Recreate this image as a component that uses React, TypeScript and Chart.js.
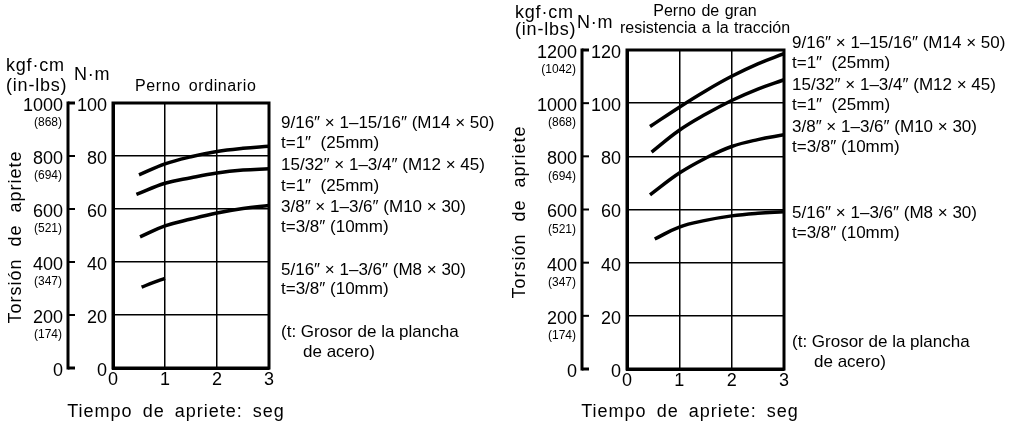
import React, { useEffect, useRef } from "react";
import { Chart, registerables } from "chart.js";

Chart.register(...registerables);

// ---------- data ----------
const TIME_TICKS = [0, 1, 2, 3];

// Perno ordinario (N·m)
const ORD_NM_TICKS = [0, 20, 40, 60, 80, 100];
const ORD_KGF_TICKS = [0, 200, 400, 600, 800, 1000];
const ORD_INLBS = ["", "(174)", "(347)", "(521)", "(694)", "(868)"];
const ORD_M14_X = [0.5, 1, 1.5, 2, 2.5, 3];
const ORD_M14_Y = [72.9, 77.0, 79.7, 81.7, 82.9, 83.7];
const ORD_M12_X = [0.45, 1, 1.5, 2, 2.5, 3];
const ORD_M12_Y = [65.5, 69.7, 71.8, 73.6, 74.7, 75.2];
const ORD_M10_X = [0.52, 1, 1.5, 2, 2.5, 3];
const ORD_M10_Y = [49.5, 53.6, 56.2, 58.5, 60.2, 61.3];
const ORD_M8_X = [0.55, 0.77, 1.0];
const ORD_M8_Y = [30.5, 32.2, 33.8];

// Perno de gran resistencia a la tracción (N·m)
const HT_NM_TICKS = [0, 20, 40, 60, 80, 100, 120];
const HT_KGF_TICKS = [0, 200, 400, 600, 800, 1000, 1200];
const HT_INLBS = ["", "(174)", "(347)", "(521)", "(694)", "(868)", "(1042)"];
const HT_M14_X = [0.44, 1, 1.5, 2, 2.5, 3];
const HT_M14_Y = [91.2, 98.5, 104.6, 110.1, 114.8, 118.6];
const HT_M12_X = [0.47, 1, 1.5, 2, 2.5, 3];
const HT_M12_Y = [81.6, 89.8, 95.8, 101.0, 105.3, 108.8];
const HT_M10_X = [0.44, 1, 1.5, 2, 2.5, 3];
const HT_M10_Y = [65.5, 73.7, 79.3, 83.7, 86.3, 88.1];
const HT_M8_X = [0.53, 1, 1.5, 2, 2.5, 3];
const HT_M8_Y = [48.9, 53.4, 55.9, 57.6, 58.6, 59.2];

const BOLT_LABELS = [
  "9/16″ × 1–15/16″ (M14 × 50)",
  "t=1″  (25mm)",
  "15/32″ × 1–3/4″ (M12 × 45)",
  "t=1″  (25mm)",
  "3/8″ × 1–3/6″ (M10 × 30)",
  "t=3/8″ (10mm)",
  "5/16″ × 1–3/6″ (M8 × 30)",
  "t=3/8″ (10mm)",
];
const NOTE_LABELS = ["(t: Grosor de la plancha", "de acero)"];

const Y_TITLE = "Torsión de apriete";
const X_TITLE = "Tiempo de apriete: seg";
const UNIT_KGF = "kgf·cm";
const UNIT_INLBS = "(in-lbs)";
const UNIT_NM = "N·m";
const ORD_TITLE = ["Perno ordinario"];
const HT_TITLE = ["Perno de gran", "resistencia a la tracción"];

// ---------- drawing ----------
const FAMILY = '"Liberation Sans", Arial, sans-serif';

type Layout = {
  width: number;
  left: number; // chart area left
  top: number;
  right: number;
  bottom: number;
  kgfGap: number;
  unitPos: { kgfX: number; kgfY: number; inY: number; nmX: number; nmY: number };
  title: { x: number; ys: number[]; align: CanvasTextAlign; letter: number; word: number };
  labelX: number;
  labelYs: number[];
  noteYs: number[];
  noteIndent: number;
  yTitle: { x: number; y: number };
  xTitle: { x: number; y: number };
};

function setSpacing(ctx: any, letter: number, word: number) {
  if ("letterSpacing" in ctx) ctx.letterSpacing = letter + "px";
  if ("wordSpacing" in ctx) ctx.wordSpacing = word + "px";
}

function makeDecor(L: Layout, kgfTicks: number[], inlbs: string[], title: string[]) {
  return {
    id: "decor",
    afterDraw(chart: any) {
      const { ctx, chartArea: a } = chart;
      const y = chart.scales.y;
      ctx.save();
      ctx.strokeStyle = "#000";
      ctx.fillStyle = "#000";
      // frame
      ctx.lineWidth = 3;
      ctx.strokeRect(a.left, a.top, a.right - a.left, a.bottom - a.top);

      // kgf·cm axis
      const lx = a.left - L.kgfGap;
      const top = y.getPixelForValue(kgfTicks[kgfTicks.length - 1] / 10);
      const bot = y.getPixelForValue(0);
      ctx.lineWidth = 3;
      ctx.beginPath();
      ctx.moveTo(lx, top - 1.5);
      ctx.lineTo(lx, bot + 1.5);
      ctx.stroke();
      kgfTicks.forEach((v, i) => {
        const py = y.getPixelForValue(v / 10);
        ctx.lineWidth = i === 0 || i === kgfTicks.length - 1 ? 3 : 2;
        ctx.beginPath();
        ctx.moveTo(lx, py);
        ctx.lineTo(lx + 7, py);
        ctx.stroke();
        ctx.textAlign = "right";
        ctx.textBaseline = "middle";
        ctx.font = `18px ${FAMILY}`;
        ctx.fillText(String(v), lx - 5, py + 3);
        if (inlbs[i]) {
          ctx.font = `12px ${FAMILY}`;
          ctx.fillText(inlbs[i], lx - 6, py + 20);
        }
      });

      // unit headers
      ctx.textAlign = "left";
      ctx.textBaseline = "middle";
      ctx.font = `18px ${FAMILY}`;
      setSpacing(ctx, 0.8, 0);
      ctx.fillText(UNIT_KGF, L.unitPos.kgfX, L.unitPos.kgfY);
      ctx.fillText(UNIT_INLBS, L.unitPos.kgfX, L.unitPos.inY);
      ctx.fillText(UNIT_NM, L.unitPos.nmX, L.unitPos.nmY);

      // chart title
      ctx.font = `16px ${FAMILY}`;
      ctx.textAlign = L.title.align;
      setSpacing(ctx, L.title.letter, L.title.word);
      title.forEach((t, i) => ctx.fillText(t, L.title.x, L.title.ys[i]));

      // bolt labels
      setSpacing(ctx, 0, 0);
      ctx.textAlign = "left";
      ctx.font = `17px ${FAMILY}`;
      BOLT_LABELS.forEach((t, i) => ctx.fillText(t, L.labelX, L.labelYs[i]));
      NOTE_LABELS.forEach((t, i) =>
        ctx.fillText(t, L.labelX + (i === 0 ? 0 : L.noteIndent), L.noteYs[i])
      );

      // axis titles
      ctx.font = `18px ${FAMILY}`;
      ctx.textAlign = "center";
      setSpacing(ctx, 1, 4);
      ctx.fillText(X_TITLE, L.xTitle.x, L.xTitle.y);
      ctx.save();
      ctx.translate(L.yTitle.x, L.yTitle.y);
      ctx.rotate(-Math.PI / 2);
      setSpacing(ctx, 1, 6);
      ctx.fillText(Y_TITLE, 0, 0);
      ctx.restore();
      setSpacing(ctx, 0, 0);
      ctx.restore();
    },
  };
}

function series(xs: number[], ys: number[]) {
  return {
    data: xs.map((x, i) => ({ x, y: ys[i] })),
    borderColor: "#000",
    borderWidth: 3.5,
    pointRadius: 0,
    fill: false,
    tension: 0.4,
    borderCapStyle: "butt" as const,
  };
}

const Y_AXIS_W = 40;
const X_AXIS_H = 26;
const H = 426;

function Panel(props: {
  left: number;
  layout: Layout;
  nmTicks: number[];
  kgfTicks: number[];
  inlbs: string[];
  title: string[];
  datasets: any[];
}) {
  const ref = useRef<HTMLCanvasElement>(null);
  useEffect(() => {
    const L = props.layout;
    const nmMax = props.nmTicks[props.nmTicks.length - 1];
    const chart = new Chart(ref.current!, {
      type: "line",
      data: { datasets: props.datasets },
      options: {
        responsive: false,
        animation: false,
        devicePixelRatio: 1,
        layout: {
          padding: {
            left: L.left - Y_AXIS_W,
            top: L.top,
            right: L.width - L.right,
            bottom: H - L.bottom - X_AXIS_H,
          },
        },
        plugins: { legend: { display: false }, tooltip: { enabled: false } },
        scales: {
          x: {
            type: "linear",
            min: TIME_TICKS[0],
            max: TIME_TICKS[TIME_TICKS.length - 1],
            afterBuildTicks: (s: any) => {
              s.ticks = TIME_TICKS.map((v) => ({ value: v }));
            },
            afterFit: (s: any) => {
              s.height = X_AXIS_H;
            },
            ticks: {
              color: "#000",
              font: { family: FAMILY, size: 18 },
              padding: 1,
              maxRotation: 0,
              autoSkip: false,
            },
            grid: { color: "#000", lineWidth: 1.5, drawTicks: false },
            border: { display: true, color: "#000", width: 3 },
          },
          y: {
            type: "linear",
            min: 0,
            max: nmMax,
            afterBuildTicks: (s: any) => {
              s.ticks = props.nmTicks.map((v) => ({ value: v }));
            },
            afterFit: (s: any) => {
              s.width = Y_AXIS_W;
            },
            ticks: {
              color: "#000",
              font: { family: FAMILY, size: 18 },
              padding: 6,
              labelOffset: 3,
              autoSkip: false,
            },
            grid: { color: "#000", lineWidth: 1.5, drawTicks: false },
            border: { display: true, color: "#000", width: 3 },
          },
        },
      } as any,
      plugins: [makeDecor(L, props.kgfTicks, props.inlbs, props.title)],
    });
    return () => chart.destroy();
  }, []);
  return (
    <canvas
      ref={ref}
      width={props.layout.width}
      height={H}
      style={{
        position: "absolute",
        left: props.left,
        top: 0,
        width: props.layout.width,
        height: H,
      }}
    />
  );
}

const ORD_LAYOUT: Layout = {
  width: 510,
  left: 113,
  top: 103,
  right: 269,
  bottom: 368,
  kgfGap: 45,
  unitPos: { kgfX: 6, kgfY: 66, inY: 86, nmX: 74, nmY: 75 },
  title: { x: 135, ys: [87], align: "left", letter: 0.6, word: 3 },
  labelX: 281,
  labelYs: [123, 143, 165, 186, 207, 227, 270, 289],
  noteYs: [332, 352],
  noteIndent: 22,
  yTitle: { x: 16, y: 237 },
  xTitle: { x: 176, y: 412 },
};

const HT_LAYOUT: Layout = {
  width: 511,
  left: 117,
  top: 50,
  right: 274,
  bottom: 369,
  kgfGap: 45,
  unitPos: { kgfX: 5, kgfY: 13, inY: 30, nmX: 67, nmY: 23 },
  title: { x: 195, ys: [12, 29], align: "center", letter: 0, word: 1 },
  labelX: 282,
  labelYs: [43, 63, 85, 105, 127, 147, 213, 233],
  noteYs: [342, 362],
  noteIndent: 22,
  yTitle: { x: 10, y: 212 },
  xTitle: { x: 180, y: 412 },
};

export default function App() {
  return (
    <div style={{ position: "absolute", left: 0, top: 0, width: 1021, height: 426, background: "#fff" }}>
      <Panel
        left={0}
        layout={ORD_LAYOUT}
        nmTicks={ORD_NM_TICKS}
        kgfTicks={ORD_KGF_TICKS}
        inlbs={ORD_INLBS}
        title={ORD_TITLE}
        datasets={[
          series(ORD_M14_X, ORD_M14_Y),
          series(ORD_M12_X, ORD_M12_Y),
          series(ORD_M10_X, ORD_M10_Y),
          series(ORD_M8_X, ORD_M8_Y),
        ]}
      />
      <Panel
        left={510}
        layout={HT_LAYOUT}
        nmTicks={HT_NM_TICKS}
        kgfTicks={HT_KGF_TICKS}
        inlbs={HT_INLBS}
        title={HT_TITLE}
        datasets={[
          series(HT_M14_X, HT_M14_Y),
          series(HT_M12_X, HT_M12_Y),
          series(HT_M10_X, HT_M10_Y),
          series(HT_M8_X, HT_M8_Y),
        ]}
      />
    </div>
  );
}
